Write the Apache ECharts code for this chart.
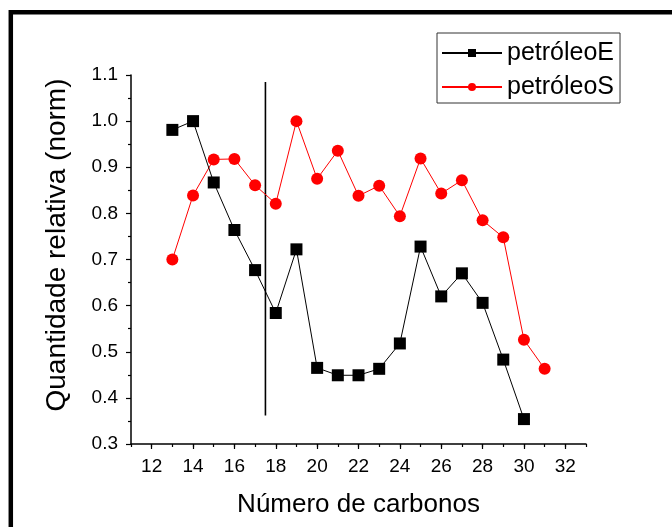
<!DOCTYPE html>
<html>
<head>
<meta charset="utf-8">
<script src="https://cdn.jsdelivr.net/npm/echarts@6/dist/echarts.min.js"></script>
<style>html,body{margin:0;padding:0;background:#fff}#c{width:672px;height:527px}</style>
</head>
<body>
<div id="c"></div>
<script>
const carbonsE = [13,14,15,16,17,18,19,20,21,22,23,24,25,26,27,28,29,30];
const valuesE  = [0.981,1.000,0.867,0.764,0.677,0.584,0.722,0.465,0.449,0.449,0.463,0.518,0.728,0.620,0.670,0.606,0.483,0.354];
const carbonsS = [13,14,15,16,17,18,19,20,21,22,23,24,25,26,27,28,29,30,31];
const valuesS  = [0.700,0.839,0.917,0.918,0.861,0.821,1.000,0.875,0.936,0.838,0.860,0.794,0.919,0.843,0.872,0.785,0.748,0.526,0.463];
const dividerX = [17.5, 17.5];
const dividerY = [0.362, 1.085];
const xMajorTicks = [12,14,16,18,20,22,24,26,28,30,32];
const seriesNames = ['petróleoE', 'petróleoS'];
const xTitle = 'Número de carbonos';
const yTitle = 'Quantidade relativa (norm)';

const FONT = 'Liberation Sans, Arial, sans-serif';
const chart = echarts.init(document.getElementById('c'), null, {renderer: 'canvas'});
const zip = (xs, ys) => xs.map((x, i) => [x, ys[i]]);

chart.setOption({
  animation: false,
  backgroundColor: '#fff',
  grid: {left: 131, right: 86, top: 75, bottom: 83},
  legend: {
    left: 437, top: 33, orient: 'vertical',
    data: seriesNames,
    itemWidth: 60, itemHeight: 10, itemGap: 4,
    padding: [5, 6, 1, 4],
    borderColor: '#333', borderWidth: 1,
    textStyle: {fontFamily: FONT, fontSize: 25, color: '#000', lineHeight: 30}
  },
  xAxis: [{
    type: 'value', min: 11, max: 33, interval: 1,
    axisLine: {lineStyle: {color: '#000', width: 1.5}},
    axisTick: {length: 5, customValues: xMajorTicks, lineStyle: {color: '#000', width: 1.2}},
    axisLabel: {customValues: xMajorTicks, fontFamily: FONT, fontSize: 19, color: '#000', margin: 13},
    splitLine: {show: false},
    name: xTitle, nameLocation: 'middle', nameGap: 48,
    nameTextStyle: {fontFamily: FONT, fontSize: 26, color: '#000'}
  }, {
    type: 'value', min: 11, max: 33, interval: 1, position: 'top', offset: -369,
    axisLine: {show: false},
    axisTick: {show: true, inside: true, length: 3, lineStyle: {color: '#000', width: 1.2}},
    axisLabel: {show: false},
    splitLine: {show: false}
  }],
  yAxis: {
    type: 'value', min: 0.3, max: 1.1, interval: 0.1,
    axisLine: {show: true, lineStyle: {color: '#000', width: 1.5}},
    axisTick: {show: true, length: 5, lineStyle: {color: '#000', width: 1.2}},
    minorTick: {show: true, splitNumber: 2, length: 3, lineStyle: {color: '#000', width: 1.2}},
    axisLabel: {fontFamily: FONT, fontSize: 19, color: '#000', margin: 13,
      formatter: v => (Math.round(v * 10) / 10).toFixed(1)},
    splitLine: {show: false}
  },
  graphic: [
    {type: 'rect', shape: {x: 10.8, y: 12.2, width: 700, height: 600},
     style: {fill: 'none', stroke: '#000', lineWidth: 4.5}, silent: true, z: 100},
    {type: 'text', x: 57, y: 245, rotation: Math.PI / 2,
     style: {text: yTitle, font: '28px ' + FONT, fill: '#000', align: 'center', verticalAlign: 'middle'}}
  ],
  series: [{
    name: seriesNames[0], type: 'line', data: zip(carbonsE, valuesE),
    symbol: 'rect', symbolSize: 12,
    itemStyle: {color: '#000'}, lineStyle: {color: '#000', width: 1}, z: 3
  }, {
    name: seriesNames[1], type: 'line', data: zip(carbonsS, valuesS),
    symbol: 'circle', symbolSize: 12,
    itemStyle: {color: '#ff0000'}, lineStyle: {color: '#ff0000', width: 1}, z: 2
  }, {
    name: 'divider', type: 'line', data: zip(dividerX, dividerY),
    symbol: 'none', lineStyle: {color: '#000', width: 1.6}, z: 1
  }]
});
</script>
</body>
</html>
